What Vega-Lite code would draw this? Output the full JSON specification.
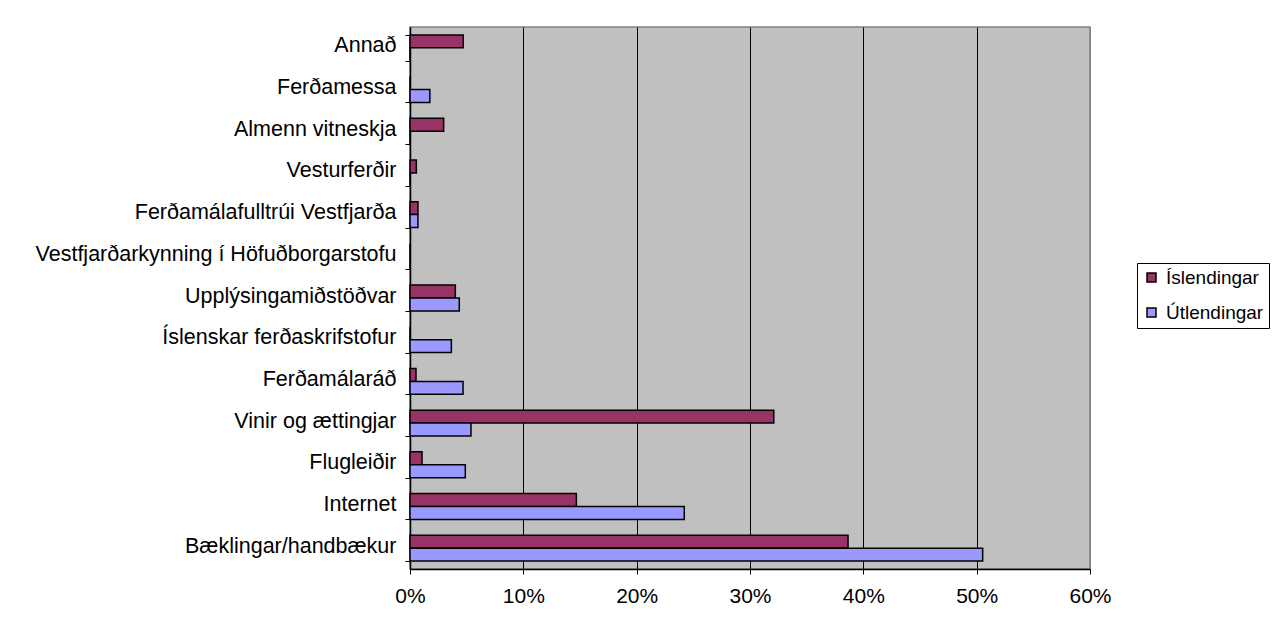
{
  "$schema": "https://vega.github.io/schema/vega-lite/v6.json",
  "width": 680,
  "height": 542,
  "autosize": {"type": "none"},
  "padding": {"left": 410, "top": 27, "right": 182, "bottom": 60},
  "background": "white",
  "config": {
    "font": "Liberation Sans",
    "view": {"fill": "#C0C0C0", "stroke": "#808080", "strokeWidth": 1.5}
  },
  "data": {
    "values": [
      {"kategoria": "Annað", "hopur": "Íslendingar", "hlutfall": 0.047},
      {"kategoria": "Annað", "hopur": "Útlendingar", "hlutfall": 0},
      {"kategoria": "Ferðamessa", "hopur": "Íslendingar", "hlutfall": 0},
      {"kategoria": "Ferðamessa", "hopur": "Útlendingar", "hlutfall": 0.0175},
      {"kategoria": "Almenn vitneskja", "hopur": "Íslendingar", "hlutfall": 0.0297},
      {"kategoria": "Almenn vitneskja", "hopur": "Útlendingar", "hlutfall": 0},
      {"kategoria": "Vesturferðir", "hopur": "Íslendingar", "hlutfall": 0.0056},
      {"kategoria": "Vesturferðir", "hopur": "Útlendingar", "hlutfall": 0},
      {"kategoria": "Ferðamálafulltrúi Vestfjarða", "hopur": "Íslendingar", "hlutfall": 0.007},
      {"kategoria": "Ferðamálafulltrúi Vestfjarða", "hopur": "Útlendingar", "hlutfall": 0.007},
      {"kategoria": "Vestfjarðarkynning í Höfuðborgarstofu", "hopur": "Íslendingar", "hlutfall": 0},
      {"kategoria": "Vestfjarðarkynning í Höfuðborgarstofu", "hopur": "Útlendingar", "hlutfall": 0},
      {"kategoria": "Upplýsingamiðstöðvar", "hopur": "Íslendingar", "hlutfall": 0.040},
      {"kategoria": "Upplýsingamiðstöðvar", "hopur": "Útlendingar", "hlutfall": 0.0435},
      {"kategoria": "Íslenskar ferðaskrifstofur", "hopur": "Íslendingar", "hlutfall": 0},
      {"kategoria": "Íslenskar ferðaskrifstofur", "hopur": "Útlendingar", "hlutfall": 0.0365},
      {"kategoria": "Ferðamálaráð", "hopur": "Íslendingar", "hlutfall": 0.0053},
      {"kategoria": "Ferðamálaráð", "hopur": "Útlendingar", "hlutfall": 0.0468},
      {"kategoria": "Vinir og ættingjar", "hopur": "Íslendingar", "hlutfall": 0.321},
      {"kategoria": "Vinir og ættingjar", "hopur": "Útlendingar", "hlutfall": 0.0538},
      {"kategoria": "Flugleiðir", "hopur": "Íslendingar", "hlutfall": 0.0106},
      {"kategoria": "Flugleiðir", "hopur": "Útlendingar", "hlutfall": 0.0488},
      {"kategoria": "Internet", "hopur": "Íslendingar", "hlutfall": 0.1468},
      {"kategoria": "Internet", "hopur": "Útlendingar", "hlutfall": 0.242},
      {"kategoria": "Bæklingar/handbækur", "hopur": "Íslendingar", "hlutfall": 0.3865},
      {"kategoria": "Bæklingar/handbækur", "hopur": "Útlendingar", "hlutfall": 0.5053}
    ]
  },
  "mark": {"type": "bar", "stroke": "black", "strokeWidth": 1.5},
  "encoding": {
    "y": {
      "field": "kategoria",
      "type": "nominal",
      "scale": {
        "domain": ["Annað", "Ferðamessa", "Almenn vitneskja", "Vesturferðir", "Ferðamálafulltrúi Vestfjarða", "Vestfjarðarkynning í Höfuðborgarstofu", "Upplýsingamiðstöðvar", "Íslenskar ferðaskrifstofur", "Ferðamálaráð", "Vinir og ættingjar", "Flugleiðir", "Internet", "Bæklingar/handbækur"],
        "paddingInner": 0.38,
        "paddingOuter": 0.19
      },
      "axis": {
        "title": null,
        "domainColor": "black",
        "domainWidth": 1.5,
        "tickColor": "black",
        "tickWidth": 1,
        "tickSize": 5,
        "tickBand": "extent",
        "labelFontSize": 21.5,
        "labelColor": "black",
        "labelPadding": 9,
        "labelLimit": 410,
        "labelOffset": -2,
        "grid": false
      }
    },
    "yOffset": {
      "field": "hopur",
      "type": "nominal",
      "scale": {"domain": ["Íslendingar", "Útlendingar"], "paddingInner": 0, "paddingOuter": 0}
    },
    "x": {
      "field": "hlutfall",
      "type": "quantitative",
      "scale": {"domain": [0, 0.6], "nice": false},
      "axis": {
        "title": null,
        "format": ".0%",
        "values": [0, 0.1, 0.2, 0.3, 0.4, 0.5, 0.6],
        "domainColor": "black",
        "domainWidth": 1.5,
        "tickColor": "black",
        "tickSize": 5,
        "labelFontSize": 21,
        "labelColor": "black",
        "labelPadding": 11,
        "labelFlush": false,
        "grid": true,
        "gridColor": {"condition": {"test": "datum.value >= 0.6", "value": "#808080"}, "value": "black"},
        "gridWidth": 1
      }
    },
    "fill": {
      "field": "hopur",
      "type": "nominal",
      "scale": {"domain": ["Íslendingar", "Útlendingar"], "range": ["#993366", "#9999FF"]},
      "legend": {
        "title": null,
        "orient": "none",
        "legendX": 727,
        "legendY": 236,
        "padding": 5,
        "strokeColor": "black",
        "fillColor": "white",
        "symbolType": "square",
        "symbolSize": 81,
        "symbolStrokeColor": "black",
        "symbolStrokeWidth": 1.5,
        "labelFontSize": 19,
        "labelColor": "black",
        "labelOffset": 5,
        "rowPadding": 15
      }
    }
  }
}
